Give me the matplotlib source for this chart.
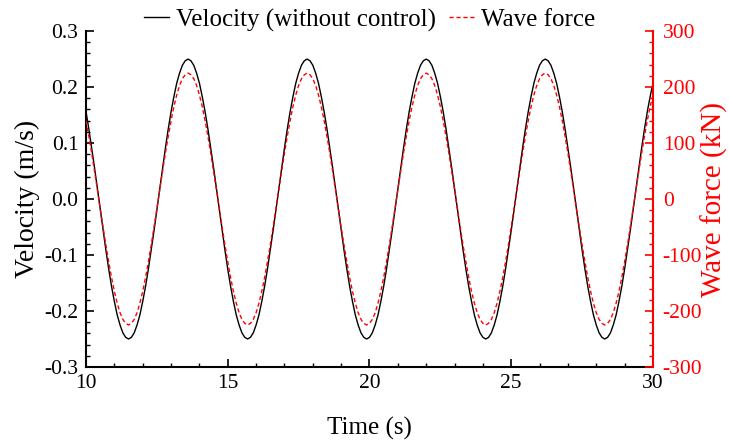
import numpy as np
import matplotlib
matplotlib.use('Agg')
import matplotlib.pyplot as plt
from matplotlib.ticker import MultipleLocator

time = np.linspace(10, 30, 201)

velocity = [
	0.156, 0.125, 0.091, 0.056, 0.019, -0.019, -0.056, -0.091, -0.125, -0.156, -0.183, -0.207,
	-0.225, -0.239, -0.247, -0.250, -0.247, -0.239, -0.225, -0.207, -0.183, -0.156, -0.125, -0.091,
	-0.056, -0.019, 0.019, 0.056, 0.091, 0.125, 0.156, 0.183, 0.207, 0.225, 0.239, 0.247,
	0.250, 0.247, 0.239, 0.225, 0.207, 0.183, 0.156, 0.125, 0.091, 0.056, 0.019, -0.019, -0.056, -0.091,
	-0.125, -0.156, -0.183, -0.207, -0.225, -0.239, -0.247, -0.250, -0.247, -0.239, -0.225, -0.207,
	-0.183, -0.156, -0.125, -0.091, -0.056, -0.019, 0.019, 0.056, 0.091, 0.125, 0.156, 0.183, 0.207,
	0.225, 0.239, 0.247,
	0.250, 0.247, 0.239, 0.225, 0.207, 0.183, 0.156, 0.125, 0.091, 0.056, 0.019, -0.019, -0.056, -0.091,
	-0.125, -0.156, -0.183, -0.207, -0.225, -0.239, -0.247, -0.250, -0.247, -0.239, -0.225, -0.207,
	-0.183, -0.156, -0.125, -0.091, -0.056, -0.019, 0.019, 0.056, 0.091, 0.125, 0.156, 0.183, 0.207,
	0.225, 0.239, 0.247,
	0.250, 0.247, 0.239, 0.225, 0.207, 0.183, 0.156, 0.125, 0.091, 0.056, 0.019, -0.019, -0.056, -0.091,
	-0.125, -0.156, -0.183, -0.207, -0.225, -0.239, -0.247, -0.250, -0.247, -0.239, -0.225, -0.207,
	-0.183, -0.156, -0.125, -0.091, -0.056, -0.019, 0.019, 0.056, 0.091, 0.125, 0.156, 0.183, 0.207,
	0.225, 0.239, 0.247,
	0.250, 0.247, 0.239, 0.225, 0.207, 0.183, 0.156, 0.125, 0.091, 0.056, 0.019, -0.019, -0.056, -0.091,
	-0.125, -0.156, -0.183, -0.207, -0.225, -0.239, -0.247, -0.250, -0.247, -0.239, -0.225, -0.207,
	-0.183, -0.156, -0.125, -0.091, -0.056, -0.019, 0.019, 0.056, 0.091, 0.125, 0.156, 0.183, 0.207]

wave_force = [
	140, 112, 82, 50, 17, -17, -50, -82, -112, -140, -165, -186,
	-203, -215, -222, -225, -222, -215, -203, -186, -165, -140, -112, -82,
	-50, -17, 17, 50, 82, 112, 140, 165, 186, 203, 215, 222,
	225, 222, 215, 203, 186, 165, 140, 112, 82, 50, 17, -17, -50, -82,
	-112, -140, -165, -186, -203, -215, -222, -225, -222, -215, -203, -186,
	-165, -140, -112, -82, -50, -17, 17, 50, 82, 112, 140, 165, 186,
	203, 215, 222,
	225, 222, 215, 203, 186, 165, 140, 112, 82, 50, 17, -17, -50, -82,
	-112, -140, -165, -186, -203, -215, -222, -225, -222, -215, -203, -186,
	-165, -140, -112, -82, -50, -17, 17, 50, 82, 112, 140, 165, 186,
	203, 215, 222,
	225, 222, 215, 203, 186, 165, 140, 112, 82, 50, 17, -17, -50, -82,
	-112, -140, -165, -186, -203, -215, -222, -225, -222, -215, -203, -186,
	-165, -140, -112, -82, -50, -17, 17, 50, 82, 112, 140, 165, 186,
	203, 215, 222,
	225, 222, 215, 203, 186, 165, 140, 112, 82, 50, 17, -17, -50, -82,
	-112, -140, -165, -186, -203, -215, -222, -225, -222, -215, -203, -186,
	-165, -140, -112, -82, -50, -17, 17, 50, 82, 112, 140, 165, 186]

plt.rcParams['font.family'] = 'Liberation Serif'
plt.rcParams['axes.unicode_minus'] = False

fig = plt.figure(figsize=(7.29, 4.44), dpi=100)
ax = fig.add_axes([0.118, 0.1734, 0.7777, 0.7566])
ax2 = ax.twinx()

l1, = ax.plot(time, velocity, color='black', linewidth=1.0, label='Velocity (without control)')
l2, = ax2.plot(time, wave_force, color='red', linewidth=1.0, dashes=(3, 2), label='Wave force')

ax.set_xlim(10, 30)
ax.set_ylim(-0.3, 0.3)
ax2.set_ylim(-300, 300)

ax.xaxis.set_major_locator(MultipleLocator(5))
ax.xaxis.set_minor_locator(MultipleLocator(1))
ax.yaxis.set_major_locator(MultipleLocator(0.1))
ax.yaxis.set_minor_locator(MultipleLocator(0.02))
ax2.yaxis.set_major_locator(MultipleLocator(100))
ax2.yaxis.set_minor_locator(MultipleLocator(20))
ax.yaxis.set_major_formatter(matplotlib.ticker.FormatStrFormatter('%.1f'))

for a in (ax, ax2):
	a.spines['top'].set_visible(False)
	for s in a.spines.values():
		s.set_linewidth(1.5)
ax.spines['right'].set_visible(False)
ax2.spines['left'].set_visible(False)
ax2.spines['bottom'].set_visible(False)
ax2.spines['right'].set_color('red')

ax.tick_params(axis='both', which='major', direction='in', length=6, width=1.2, labelsize=15.5)
ax.tick_params(axis='y', which='major', pad=5.5)
ax.tick_params(axis='x', which='major', pad=5)
ax.tick_params(axis='both', which='minor', direction='in', length=3, width=1.0)
ax.tick_params(axis='y', right=False)
ax2.tick_params(axis='y', which='major', direction='in', length=6, width=1.2, labelsize=15.5,
	colors='red', pad=7)
ax2.tick_params(axis='y', which='minor', direction='in', length=3, width=1.0, colors='red')

ax.set_xlabel('Time (s)', fontsize=18)
ax.xaxis.set_label_coords(0.5, -0.15)
ax.set_ylabel('Velocity (m/s)', fontsize=20)
ax.yaxis.set_label_coords(-0.081, 0.5)
ax2.set_ylabel('Wave force (kN)', fontsize=21, color='red')
ax2.yaxis.set_label_coords(1.085, 0.5)

fig.legend(handles=[l1, l2], loc='center', bbox_to_anchor=(0.507, 0.955), ncol=2, frameon=False,
	fontsize=18, handlelength=1.0, handletextpad=0.3, columnspacing=0.5)

fig.savefig('out.png', dpi=100)
